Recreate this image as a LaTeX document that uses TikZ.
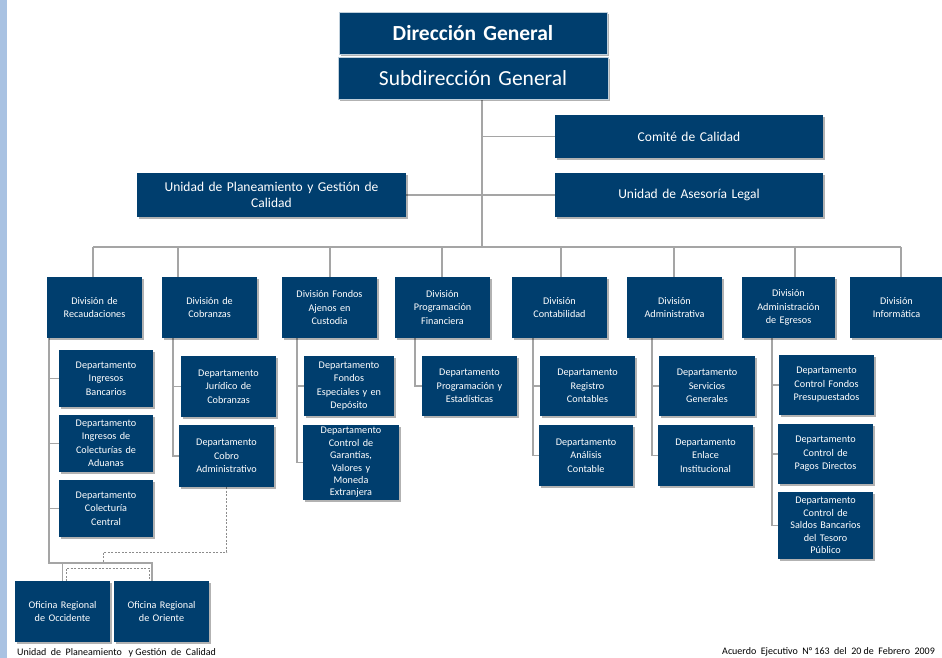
\documentclass[tikz,border=0pt]{standalone}
\usepackage{fontspec}
\setmainfont{Carlito}
\usetikzlibrary{shadows,calc,backgrounds}
\definecolor{boxblue}{RGB}{0,62,110}
\definecolor{linegray}{RGB}{165,165,165}
\definecolor{stripeblue}{RGB}{169,194,226}
\tikzset{
  box/.style={fill=boxblue, text=white, align=center, inner sep=0pt, outer sep=0pt,
    drop shadow={shadow xshift=2pt, shadow yshift=-2pt, fill=black, opacity=0.3}},
  toptitle/.style={draw=white!75!boxblue, line width=0.8pt},
  divtext/.style={font=\fontsize{10.2}{13.5}\selectfont},
  tighttext/.style={font=\fontsize{10.2}{12.4}\selectfont},
  midtext/.style={font=\fontsize{13.5}{15.5}\selectfont},
  conn/.style={draw=linegray, line width=1.8pt},
  dconn/.style={draw=linegray!85!black, line width=0.8pt, dash pattern=on 2pt off 1.5pt},
  foot/.style={font=\fontsize{10}{11}\selectfont, inner sep=0pt},
}
% \bx[options]{name}{x1}{y1}{x2}{y2}{text}
\newcommand\bx[7][]{%
  \pgfmathsetmacro\bxw{(#5)-(#3)}%
  \pgfmathsetmacro\bxh{(#6)-(#4)}%
  \pgfmathsetmacro\bxt{(#5)-(#3)-6}%
  \node[box, minimum width=\bxw pt, minimum height=\bxh pt, text width=\bxt pt, #1]
    (#2) at ({((#3)+(#5))/2},{((#4)+(#6))/2}) {#7};}
\begin{document}
\begin{tikzpicture}[x=1pt,y=-1pt]
\useasboundingbox (0,0) rectangle (942,658);
\clip (0,0) rectangle (942,658);

% coordinates for connectors
\coordinate (tx) at (482,0);
\coordinate (bus) at (0,247);
\coordinate (b1) at (93,247);
\coordinate (b2) at (178,247);
\coordinate (b3) at (330,247);
\coordinate (b4) at (442,247);
\coordinate (b5) at (561,247);
\coordinate (b6) at (674,247);
\coordinate (b7) at (795,247);
\coordinate (b8) at (901,247);
\coordinate (s1) at (49,0);
\coordinate (s2) at (173,0);
\coordinate (s3) at (297,0);
\coordinate (s4) at (415,0);
\coordinate (s5) at (533,0);
\coordinate (s6) at (652,0);
\coordinate (s7) at (772,0);
\coordinate (j1) at (49,563);
\coordinate (dj) at (103,552);

% top boxes
\bx[toptitle, font=\fontsize{21.5}{23}\selectfont\bfseries]{dg}{339}{12}{607}{54}{Dirección General}
\bx[toptitle, font=\fontsize{21.5}{23}\selectfont]{sg}{338}{57}{608}{99}{Subdirección General}
\bx[midtext]{comite}{555}{115}{823}{158}{Comité de Calidad}
\bx[midtext]{asesoria}{555}{173}{823}{217}{Unidad de Asesoría Legal}
\bx[midtext]{plan}{137}{173}{406}{217}{Unidad de Planeamiento y Gestión de\\Calidad}

% divisions
\bx[divtext]{d1}{47}{277}{142}{338}{División de\\Recaudaciones}
\bx[divtext]{d2}{162}{277}{257}{338}{División de\\Cobranzas}
\bx[divtext]{d3}{282}{277}{377}{338}{División Fondos\\Ajenos en\\Custodia}
\bx[divtext]{d4}{395}{277}{490}{338}{División\\Programación\\Financiera}
\bx[divtext]{d5}{512}{277}{607}{338}{División\\Contabilidad}
\bx[divtext]{d6}{627}{277}{722}{338}{División\\Administrativa}
\bx[divtext]{d7}{742}{277}{835}{338}{División\\Administración\\de Egresos}
\bx[divtext]{d8}{850}{277}{943}{338}{División\\Informática}

% departments
\bx[divtext]{r1}{59}{350}{153}{407}{Departamento\\Ingresos\\Bancarios}
\bx[divtext]{r2}{59}{415}{153}{472}{Departamento\\Ingresos de\\Colecturías de\\Aduanas}
\bx[divtext]{r3}{59}{480}{153}{537}{Departamento\\Colecturía\\Central}
\bx[divtext]{c1}{181}{356}{276}{417}{Departamento\\Jurídico de\\Cobranzas}
\bx[divtext]{c2}{179}{425}{274}{487}{Departamento\\Cobro\\Administrativo}
\bx[divtext]{f1}{304}{356}{394}{416}{Departamento\\Fondos\\Especiales y en\\Depósito}
\bx[tighttext]{f2}{303}{425}{399}{500}{Departamento\\Control de\\Garantías,\\Valores y\\Moneda\\Extranjera}
\bx[divtext]{p1}{422}{356}{517}{416}{Departamento\\Programación y\\Estadísticas}
\bx[divtext]{k1}{540}{356}{635}{416}{Departamento\\Registro\\Contables}
\bx[divtext]{k2}{539}{425}{633}{486}{Departamento\\Análisis\\Contable}
\bx[divtext]{a1}{659}{356}{755}{416}{Departamento\\Servicios\\Generales}
\bx[divtext]{a2}{658}{425}{753}{486}{Departamento\\Enlace\\Institucional}
\bx[divtext]{e1}{779}{355}{874}{415}{Departamento\\Control Fondos\\Presupuestados}
\bx[divtext]{e2}{778}{424}{873}{484}{Departamento\\Control de\\Pagos Directos}
\bx[tighttext]{e3}{778}{492}{873}{559}{Departamento\\Control de\\Saldos Bancarios\\del Tesoro\\Público}

% regional offices
\bx[divtext]{o1}{15}{581}{110}{642}{Oficina Regional\\de Occidente}
\bx[divtext]{o2}{114}{581}{209}{642}{Oficina Regional\\de Oriente}

% background and connectors
\begin{scope}[on background layer]
\fill[white] (0,0) rectangle (942,658);
\fill[stripeblue] (0,0) rectangle (7,658);
\draw[conn] (tx |- sg.south) -- (tx |- bus);
\draw[conn] (tx |- comite.west) -- (comite.west);
\draw[conn] (plan.east) -- (asesoria.west);
\draw[conn] (b1) -- (b8);
\foreach \i in {1,...,8}{\draw[conn] (b\i) -- (b\i |- d\i.north);}
% division spines
\draw[conn] (s1 |- d1.south) -- (j1) -| (o1.north);
\draw[conn] (j1) -| ([xshift=-9.5pt]o2.north);
\draw[conn] (s2 |- d2.south) -- (s2 |- c2.west) -- (c2.west);
\draw[conn] (s3 |- d3.south) -- (s3 |- f2.west) -- (f2.west);
\draw[conn] (s4 |- d4.south) -- (s4 |- p1.west) -- (p1.west);
\draw[conn] (s5 |- d5.south) -- (s5 |- k2.west) -- (k2.west);
\draw[conn] (s6 |- d6.south) -- (s6 |- a2.west) -- (a2.west);
\draw[conn] (s7 |- d7.south) -- (s7 |- e3.west) -- (e3.west);
\foreach \n/\s in {r1/s1,r2/s1,r3/s1,c1/s2,f1/s3,k1/s5,a1/s6,e1/s7,e2/s7}{\draw[conn] (\s |- \n.west) -- (\n.west);}
% dashed link from Cobro Administrativo to regional offices
\draw[dconn] (c2.south) |- (dj) -- (dj |- j1);
\draw[dconn] ([xshift=3.5pt]o1.north) -- ++(0,-13) -| ([xshift=-12.5pt]o2.north);
\end{scope}

% footer
\node[foot, anchor=west] (ft1) at (17,653) {Unidad \ de \ Planeamiento \ \ y Gestión \ de \ Calidad};
\node[foot, anchor=east] (ft2) at (935,652) {Acuerdo \ Ejecutivo \ N° 163 \ del \ 20 de \ Febrero \ 2009};
\end{tikzpicture}
\end{document}
